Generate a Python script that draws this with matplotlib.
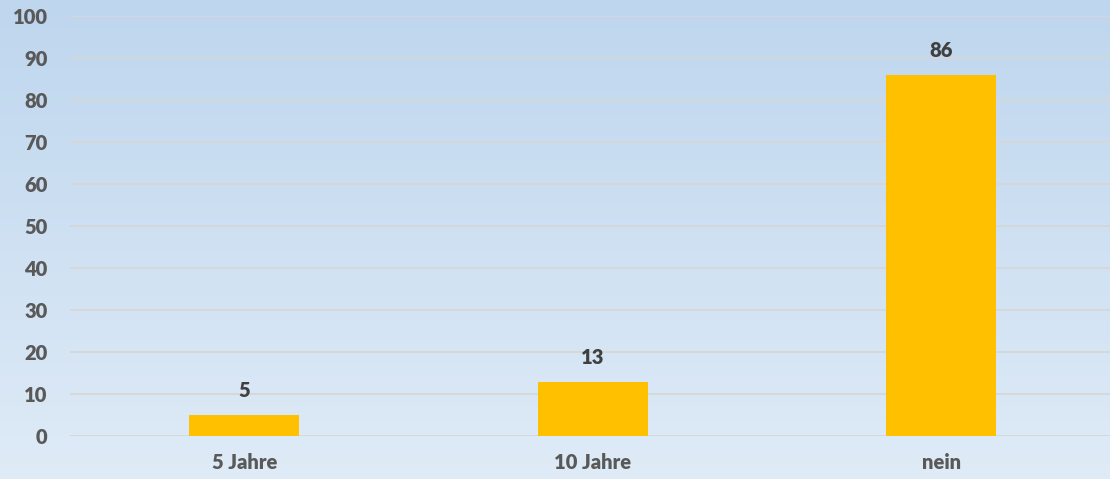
import numpy as np
import matplotlib
matplotlib.use('Agg')
import matplotlib.pyplot as plt
from matplotlib.colors import LinearSegmentedColormap

# data
categories = ['5 Jahre', '10 Jahre', 'nein']
values = [5, 13, 86]
yticks = [0, 10, 20, 30, 40, 50, 60, 70, 80, 90, 100]

plt.rcParams['font.family'] = ['Lato', 'DejaVu Sans']

fig = plt.figure(figsize=(11.1, 4.79), dpi=100)

# gradient background over the whole figure
bg = fig.add_axes([0, 0, 1, 1], zorder=0)
grad = np.linspace(0, 1, 256).reshape(-1, 1)
cmap = LinearSegmentedColormap.from_list('bg', ['#bed6ee', '#dfebf7'])
bg.imshow(grad, aspect='auto', cmap=cmap, extent=[0, 1, 0, 1], origin='upper')
bg.axis('off')

ax = fig.add_axes([0.063, 0.089, 0.942, 0.877], zorder=1)
ax.patch.set_alpha(0)
x = np.arange(len(categories))
ax.bar(x, values, width=0.316, color='#ffc000', zorder=3)
for xi, v in zip(x, values):
    ax.text(xi, v + 3.6, str(v), ha='center', va='bottom', fontsize=14.5,
            fontweight='heavy', color='#404040')

ax.set_xlim(-0.5, 2.5)
ax.set_ylim(0, 100)
ax.set_yticks(yticks)
ax.set_xticks(x)
ax.set_xticklabels(categories)
ax.yaxis.grid(True, color='#d6d6d6', linewidth=1.3, zorder=0)
ax.set_axisbelow(True)
for s in ax.spines.values():
    s.set_visible(False)
ax.tick_params(length=0, labelsize=14.5, labelcolor='#595959')
ax.tick_params(axis='y', pad=16)
ax.tick_params(axis='x', pad=12)
for lbl in ax.get_xticklabels() + ax.get_yticklabels():
    lbl.set_fontweight('heavy')

fig.savefig('out.png', dpi=100)
